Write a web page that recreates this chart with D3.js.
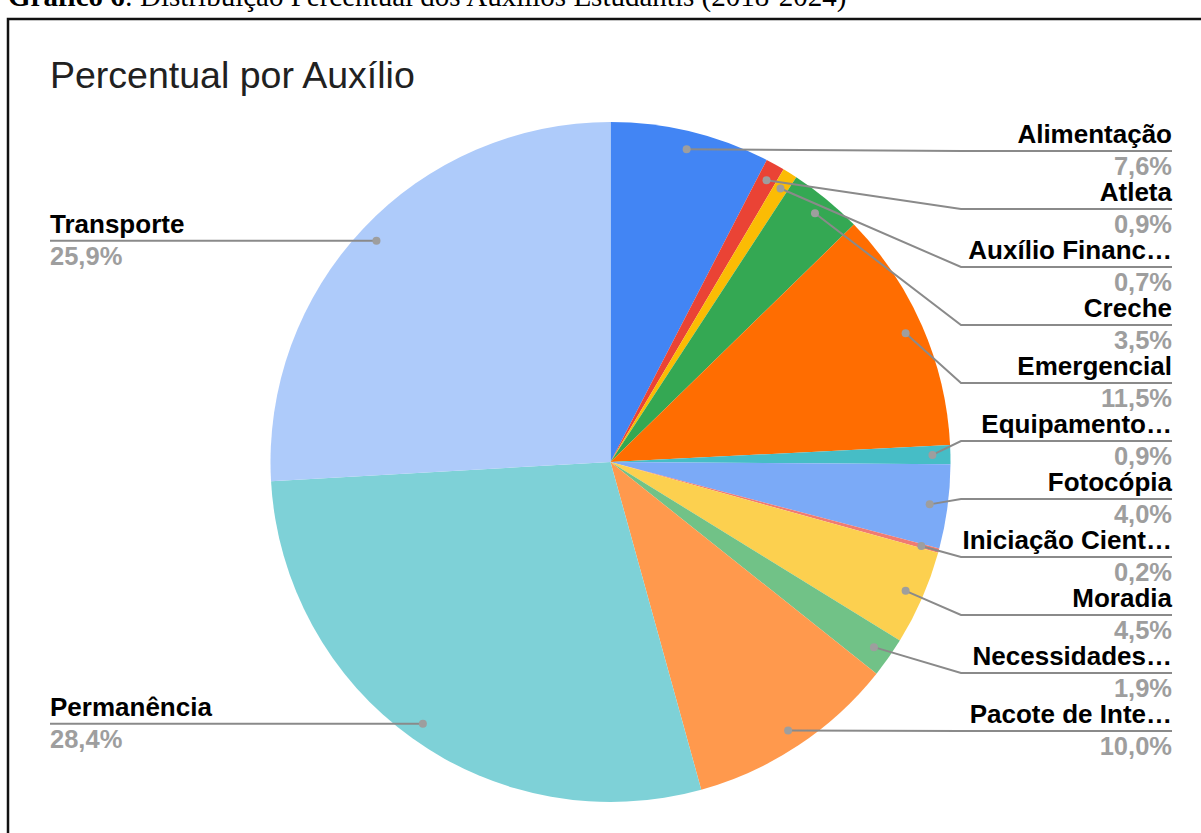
<!DOCTYPE html>
<html>
<head>
  <meta charset="utf-8">
  <script src="https://d3js.org/d3.v7.min.js"></script>
  <style>
    body { margin: 0; background: #fff; }
    svg { display: block; }
  </style>
</head>
<body>
  <div id="chart"></div>
  <script>
    // values (percent), clockwise from 12 o'clock
    var labels = ['Alimentação', 'Atleta', 'Auxílio Financ…', 'Creche', 'Emergencial',
      'Equipamento…', 'Fotocópia', 'Iniciação Cient…', 'Moradia', 'Necessidades…',
      'Pacote de Inte…', 'Permanência', 'Transporte'];
    var values = [7.6, 0.9, 0.7, 3.5, 11.5, 0.9, 4.0, 0.2, 4.5, 1.9, 10.0, 28.4, 25.9];
    var colors = ['#4285f4', '#ea4335', '#fbbc04', '#34a853', '#ff6d01', '#46bdc6',
      '#7baaf7', '#f07b72', '#fcd04f', '#71c287', '#ff994d', '#7ed1d7', '#aecbfa'];
    // labels on the left side of the pie
    var leftLabels = ['Permanência', 'Transporte'];

    var width = 1201, height = 833;
    var cx = 610.5, cy = 462, radius = 340, dotR = 322;

    var svg = d3.select('#chart').append('svg')
      .attr('width', width)
      .attr('height', height);

    // caption above the frame (cut at the top in the reference)
    var cap = svg.append('text')
      .attr('x', 8)
      .attr('y', 6)
      .attr('font-family', '"Liberation Serif", "Times New Roman", serif')
      .attr('font-size', '29px')
      .attr('fill', '#000');
    cap.append('tspan').attr('font-weight', 'bold').text('Gráfico 6');
    cap.append('tspan').text(': Distribuição Percentual dos Auxílios Estudantis (2018-2024)');

    // frame
    svg.append('rect')
      .attr('x', 8)
      .attr('y', 19)
      .attr('width', 1250)
      .attr('height', 900)
      .attr('fill', '#fff')
      .attr('stroke', '#111')
      .attr('stroke-width', 2.5);

    svg.append('text')
      .attr('x', 50)
      .attr('y', 88)
      .attr('font-family', '"Liberation Sans", Arial, sans-serif')
      .attr('font-size', '37.5px')
      .attr('fill', '#212121')
      .text('Percentual por Auxílio');

    var pie = d3.pie().sort(null).value(function(d) { return d; });
    var arcs = pie(values);
    var arc = d3.arc().innerRadius(0).outerRadius(radius);
    var dotArc = d3.arc().innerRadius(dotR).outerRadius(dotR);

    var g = svg.append('g').attr('transform', 'translate(' + cx + ',' + cy + ')');
    g.selectAll('path.slice')
      .data(arcs)
      .enter().append('path')
      .attr('class', 'slice')
      .attr('d', arc)
      .attr('fill', function(d, i) { return colors[i]; });

    // label positions
    var rightX = 1172, elbowX = 961, leftX = 50;
    var firstY = 151, step = 58;
    var ri = 0;
    var items = arcs.map(function(d, i) {
      var c = dotArc.centroid(d);
      var dx = cx + c[0], dy = cy + c[1];
      var isLeft = leftLabels.indexOf(labels[i]) >= 0;
      var ly = isLeft ? dy : firstY + (ri++) * step;
      return { i: i, dx: dx, dy: dy, left: isLeft, ly: ly };
    });

    var line = d3.line();
    svg.selectAll('path.leader')
      .data(items)
      .enter().append('path')
      .attr('class', 'leader')
      .attr('d', function(d) {
        if (d.left) return line([[d.dx, d.dy], [leftX, d.ly]]);
        return line([[d.dx, d.dy], [elbowX, d.ly], [rightX, d.ly]]);
      })
      .attr('fill', 'none')
      .attr('stroke', '#8a8a8a')
      .attr('stroke-width', 2);

    svg.selectAll('circle.dot')
      .data(items)
      .enter().append('circle')
      .attr('class', 'dot')
      .attr('cx', function(d) { return d.dx; })
      .attr('cy', function(d) { return d.dy; })
      .attr('r', 4)
      .attr('fill', '#9e9e9e');

    var fmt = function(v) { return v.toFixed(1).replace('.', ',') + '%'; };

    var lab = svg.selectAll('g.lab')
      .data(items)
      .enter().append('g')
      .attr('class', 'lab')
      .attr('font-family', '"Liberation Sans", Arial, sans-serif')
      .attr('font-weight', 'bold')
      .attr('text-anchor', function(d) { return d.left ? 'start' : 'end'; });
    lab.append('text')
      .attr('x', function(d) { return d.left ? leftX : rightX; })
      .attr('y', function(d) { return d.ly - 8; })
      .attr('font-size', '26px')
      .attr('fill', '#000')
      .text(function(d) { return labels[d.i]; });
    lab.append('text')
      .attr('x', function(d) { return d.left ? leftX : rightX; })
      .attr('y', function(d) { return d.ly + 24; })
      .attr('font-size', '25.5px')
      .attr('fill', '#9e9e9e')
      .text(function(d) { return fmt(values[d.i]); });
  </script>
</body>
</html>
